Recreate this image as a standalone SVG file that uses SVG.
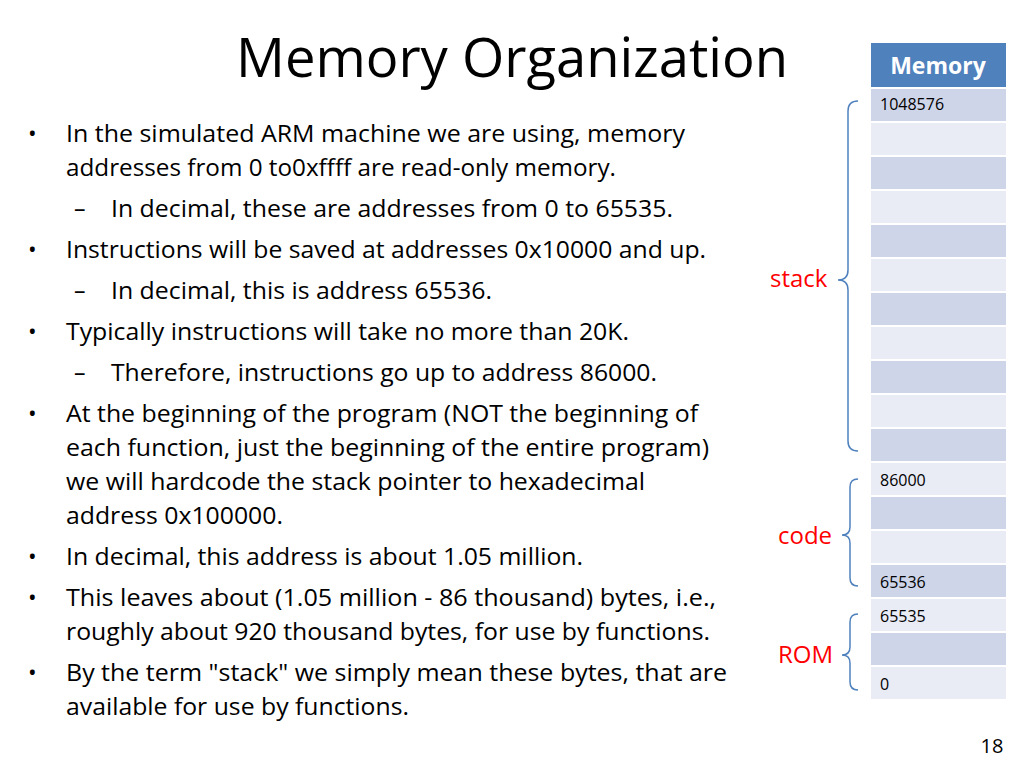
<svg xmlns="http://www.w3.org/2000/svg" width="1024" height="768" viewBox="0 0 1024 768">
<style>
text{font-family:"Open Sans","Liberation Sans",sans-serif;fill:#000}
.b{font-size:23px}
.c{font-size:16px}
.r{font-size:24px;fill:#ff0000}
.d{fill:#cfd5e8}.l{fill:#e9ebf5}
.br{fill:none;stroke:#4f81bd;stroke-width:1.5}
</style>
<rect width="1024" height="768" fill="#fff"/>
<text x="512" y="77" font-size="54" text-anchor="middle" textLength="552" lengthAdjust="spacingAndGlyphs">Memory Organization</text>
<g id="text" class="b">
<text x="28" y="142">•</text><text x="66" y="142" textLength="619" lengthAdjust="spacingAndGlyphs">In the simulated ARM machine we are using, memory</text>
<text x="66" y="176" textLength="550" lengthAdjust="spacingAndGlyphs">addresses from 0 to0xffff are read-only memory.</text>
<text x="74" y="217">–</text><text x="111" y="217" textLength="562" lengthAdjust="spacingAndGlyphs">In decimal, these are addresses from 0 to 65535.</text>
<text x="28" y="258">•</text><text x="66" y="258" textLength="640" lengthAdjust="spacingAndGlyphs">Instructions will be saved at addresses 0x10000 and up.</text>
<text x="74" y="299">–</text><text x="111" y="299" textLength="381" lengthAdjust="spacingAndGlyphs">In decimal, this is address 65536.</text>
<text x="28" y="340">•</text><text x="66" y="340" textLength="563" lengthAdjust="spacingAndGlyphs">Typically instructions will take no more than 20K.</text>
<text x="74" y="381">–</text><text x="111" y="381" textLength="546" lengthAdjust="spacingAndGlyphs">Therefore, instructions go up to address 86000.</text>
<text x="28" y="422">•</text><text x="66" y="422" textLength="632" lengthAdjust="spacingAndGlyphs">At the beginning of the program (NOT the beginning of</text>
<text x="66" y="456" textLength="643" lengthAdjust="spacingAndGlyphs">each function, just the beginning of the entire program)</text>
<text x="66" y="490" textLength="579" lengthAdjust="spacingAndGlyphs">we will hardcode the stack pointer to hexadecimal</text>
<text x="66" y="524" textLength="217" lengthAdjust="spacingAndGlyphs">address 0x100000.</text>
<text x="28" y="565">•</text><text x="66" y="565" textLength="517" lengthAdjust="spacingAndGlyphs">In decimal, this address is about 1.05 million.</text>
<text x="28" y="606">•</text><text x="66" y="606" textLength="650" lengthAdjust="spacingAndGlyphs">This leaves about (1.05 million - 86 thousand) bytes, i.e.,</text>
<text x="66" y="640" textLength="644" lengthAdjust="spacingAndGlyphs">roughly about 920 thousand bytes, for use by functions.</text>
<text x="28" y="681">•</text><text x="66" y="681" textLength="661" lengthAdjust="spacingAndGlyphs">By the term "stack" we simply mean these bytes, that are</text>
<text x="66" y="715" textLength="343" lengthAdjust="spacingAndGlyphs">available for use by functions.</text>
</g>
<g id="memory">
<rect x="871" y="43" width="135" height="44" fill="#4f81bd"/>
<text x="938" y="74" font-size="23" font-weight="bold" fill="#fff" style="fill:#fff" text-anchor="middle">Memory</text>
<rect class="d" x="871" y="89" width="135" height="32"/>
<rect class="l" x="871" y="123" width="135" height="32"/>
<rect class="d" x="871" y="157" width="135" height="32"/>
<rect class="l" x="871" y="191" width="135" height="32"/>
<rect class="d" x="871" y="225" width="135" height="32"/>
<rect class="l" x="871" y="259" width="135" height="32"/>
<rect class="d" x="871" y="293" width="135" height="32"/>
<rect class="l" x="871" y="327" width="135" height="32"/>
<rect class="d" x="871" y="361" width="135" height="32"/>
<rect class="l" x="871" y="395" width="135" height="32"/>
<rect class="d" x="871" y="429" width="135" height="32"/>
<rect class="l" x="871" y="463" width="135" height="32"/>
<rect class="d" x="871" y="497" width="135" height="32"/>
<rect class="l" x="871" y="531" width="135" height="32"/>
<rect class="d" x="871" y="565" width="135" height="32"/>
<rect class="l" x="871" y="599" width="135" height="32"/>
<rect class="d" x="871" y="633" width="135" height="32"/>
<rect class="l" x="871" y="667" width="135" height="32"/>
<text class="c" x="880" y="110">1048576</text>
<text class="c" x="880" y="486">86000</text>
<text class="c" x="880" y="588">65536</text>
<text class="c" x="880" y="622">65535</text>
<text class="c" x="880" y="690">0</text>
</g>
<g id="braces">
<path class="br" d="M858,101 Q848,101 848,111 V270 Q848,280 838,280 Q848,280 848,290 V441 Q848,451 858,451"/>
<path class="br" d="M858,479 Q850,479 850,487 V527 Q850,535 842,535 Q850,535 850,543 V578 Q850,586 858,586"/>
<path class="br" d="M858,614 Q850,614 850,622 V647 Q850,655 842,655 Q850,655 850,663 V682 Q850,690 858,690"/>
</g>
<text class="r" x="770" y="287">stack</text>
<text class="r" x="778" y="544">code</text>
<text class="r" x="778" y="663">ROM</text>
<text x="992" y="753" font-size="20" text-anchor="middle">18</text>
</svg>
